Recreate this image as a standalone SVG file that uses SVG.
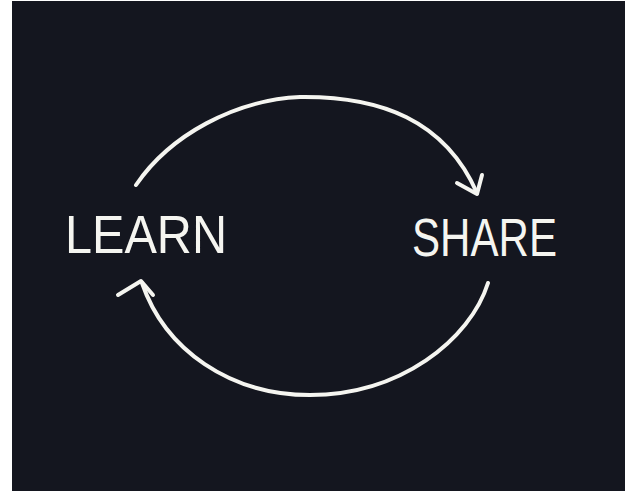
<svg xmlns="http://www.w3.org/2000/svg" width="630" height="491" viewBox="0 0 630 491">
<style>
.bg{fill:#14161f}
.ln{fill:none;stroke:#f5f5f0;stroke-width:4;stroke-linecap:round;stroke-linejoin:round}
.lb{fill:#f5f5f0;font-family:"Liberation Sans",Arial,sans-serif;font-size:53px}
</style>
<rect width="630" height="491" fill="#ffffff"/>
<rect class="bg" x="12" y="1" width="613" height="490"/>
<g id="connectors">
<path class="ln" d="M136,185 C170,135 235,100 300,97 C380,96 445,120 477,193"/>
<polyline class="ln" points="457,183 477,194 482,175"/>
<path class="ln" d="M488,283 C470,340 400,395 310,395 C230,395 165,350 142,283"/>
<polyline class="ln" points="118,295 141,281 153,295"/>
</g>
<g id="learn"><text class="lb" x="65" y="253" textLength="162" lengthAdjust="spacingAndGlyphs">LEARN</text></g>
<g id="share"><text class="lb" x="412" y="256" font-size="55" textLength="145" lengthAdjust="spacingAndGlyphs">SHARE</text></g>
</svg>
